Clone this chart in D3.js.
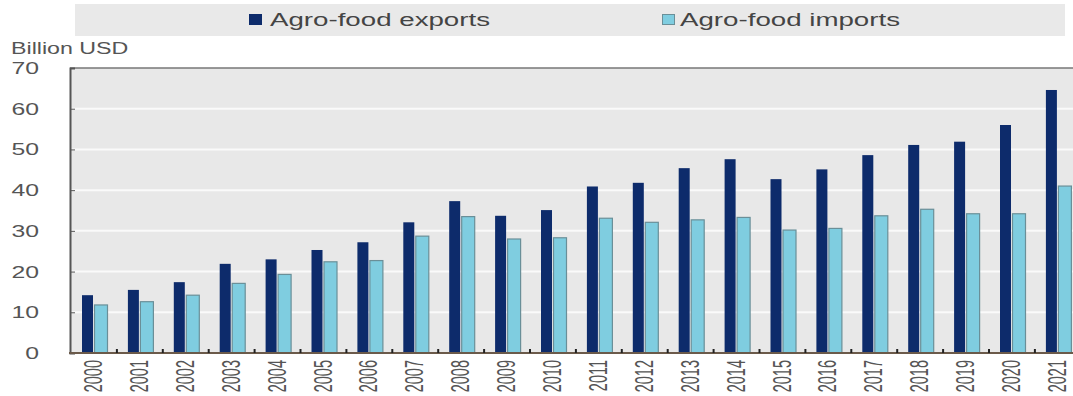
<!DOCTYPE html>
<html><head><meta charset="utf-8">
<script src="https://cdn.jsdelivr.net/npm/d3@7"></script>
<style>body{margin:0;background:#fff;}svg{display:block;font-family:"Liberation Sans",Arial,sans-serif;}</style>
</head><body><svg id="c" width="1073" height="396"></svg>
<script>
const years = ["2000","2001","2002","2003","2004","2005","2006","2007","2008","2009","2010","2011","2012","2013","2014","2015","2016","2017","2018","2019","2020","2021"];
const exportsVals = [14.2,15.5,17.4,21.9,23.0,25.3,27.2,32.1,37.3,33.7,35.1,40.9,41.8,45.4,47.6,42.7,45.1,48.6,51.1,51.9,56.0,64.6];
const importsVals = [11.8,12.6,14.2,17.1,19.3,22.4,22.7,28.7,33.5,28.0,28.3,33.1,32.1,32.7,33.3,30.2,30.6,33.7,35.3,34.2,34.2,41.0];
const yTicks = [0,10,20,30,40,50,60,70];
const seriesNames = ["Agro-food exports","Agro-food imports"];

(function(){
const svg = d3.select("#c");
const pL = 70, pR = 1085, pT = 68, pB = 353;
const stretch = 1.5;
const x = d3.scaleBand().domain(years).range([72, 72 + 22*45.9]).padding(0);
const y = d3.scaleLinear().domain([0,70]).range([pB, pT]);

function widen(sel, f){
  sel.each(function(){
    const w = this.getComputedTextLength();
    d3.select(this).attr("textLength", w*f).attr("lengthAdjust","spacingAndGlyphs");
  });
}

// legend
svg.append("rect").attr("x",75).attr("y",4).attr("width",990).attr("height",32).attr("fill","#e9e9e9");
const lg = [{n:seriesNames[0], fill:"#0d2b6b", stroke:"#0d2b6b", sx:249, tx:270},{n:seriesNames[1], fill:"#7fcde0", stroke:"#6a8f98", sx:662, tx:680}];
lg.forEach(d=>{
  svg.append("rect").attr("x",d.sx+0.5).attr("y",14.5).attr("width",12).attr("height",10).attr("fill",d.fill).attr("stroke",d.stroke);
  svg.append("text").attr("x",d.tx).attr("y",26).attr("font-size",18).attr("fill","#444")
    .attr("textLength",220).attr("lengthAdjust","spacingAndGlyphs").text(d.n);
});

// plot bg
svg.append("rect").attr("x",pL).attr("y",pT).attr("width",pR-pL).attr("height",pB-pT).attr("fill","#e8e8e8");
svg.append("g").selectAll("line").data(yTicks.filter(t=>t>0&&t<70)).join("line")
  .attr("x1",pL).attr("x2",pR).attr("y1",d=>y(d)).attr("y2",d=>y(d)).attr("stroke","#fafafa").attr("stroke-width",2);
svg.append("line").attr("x1",pL).attr("x2",pR).attr("y1",pT).attr("y2",pT).attr("stroke","#777").attr("stroke-width",1.5);

// bars
const g = svg.append("g");
g.selectAll("rect.e").data(years).join("rect").attr("class","e")
  .attr("x",d=>x(d)+10).attr("width",11).attr("y",(d,i)=>y(exportsVals[i])).attr("height",(d,i)=>pB-y(exportsVals[i]))
  .attr("fill","#0d2b6b");
g.selectAll("rect.i").data(years).join("rect").attr("class","i")
  .attr("x",d=>x(d)+22.5).attr("width",13).attr("y",(d,i)=>y(importsVals[i])).attr("height",(d,i)=>pB-y(importsVals[i]))
  .attr("fill","#7fcde0").attr("stroke","#6a8f98").attr("stroke-width",1.2);

// y axis
const ya = svg.append("g").attr("transform",`translate(${pL},0)`)
  .call(d3.axisRight(y).tickValues(yTicks).tickSize(5).tickFormat(""));
ya.select(".domain").attr("stroke","#555").attr("stroke-width",2);
ya.selectAll(".tick line").attr("stroke","#555");
const yl = svg.append("g").selectAll("text").data(yTicks).join("text")
  .attr("x",39).attr("y",d=>y(d)+6).attr("text-anchor","end").attr("font-size",16.5).attr("fill","#555").text(d=>d);
widen(yl, stretch);
const bu = svg.append("text").attr("x",11).attr("y",54).attr("font-size",16).attr("fill","#555").text("Billion USD");
widen(bu, 1.45);

// x axis
svg.append("line").attr("x1",pL-1).attr("x2",pR).attr("y1",pB).attr("y2",pB).attr("stroke","#6b5a4a").attr("stroke-width",2);
svg.append("g").selectAll("line").data(years.slice(1)).join("line")
  .attr("x1",d=>x(d)-1).attr("x2",d=>x(d)-1).attr("y1",pB).attr("y2",pB-4).attr("stroke","#222").attr("stroke-width",2);
svg.append("g").selectAll("text").data(years).join("text")
  .attr("transform",d=>`translate(${x(d)+x.bandwidth()/2-2},${360}) scale(1.8,1) rotate(-90)`)
  .attr("text-anchor","end").attr("dy","0.35em").attr("font-size",14.5).attr("fill","#555")
  .text(d=>d);
})();
</script></body></html>
